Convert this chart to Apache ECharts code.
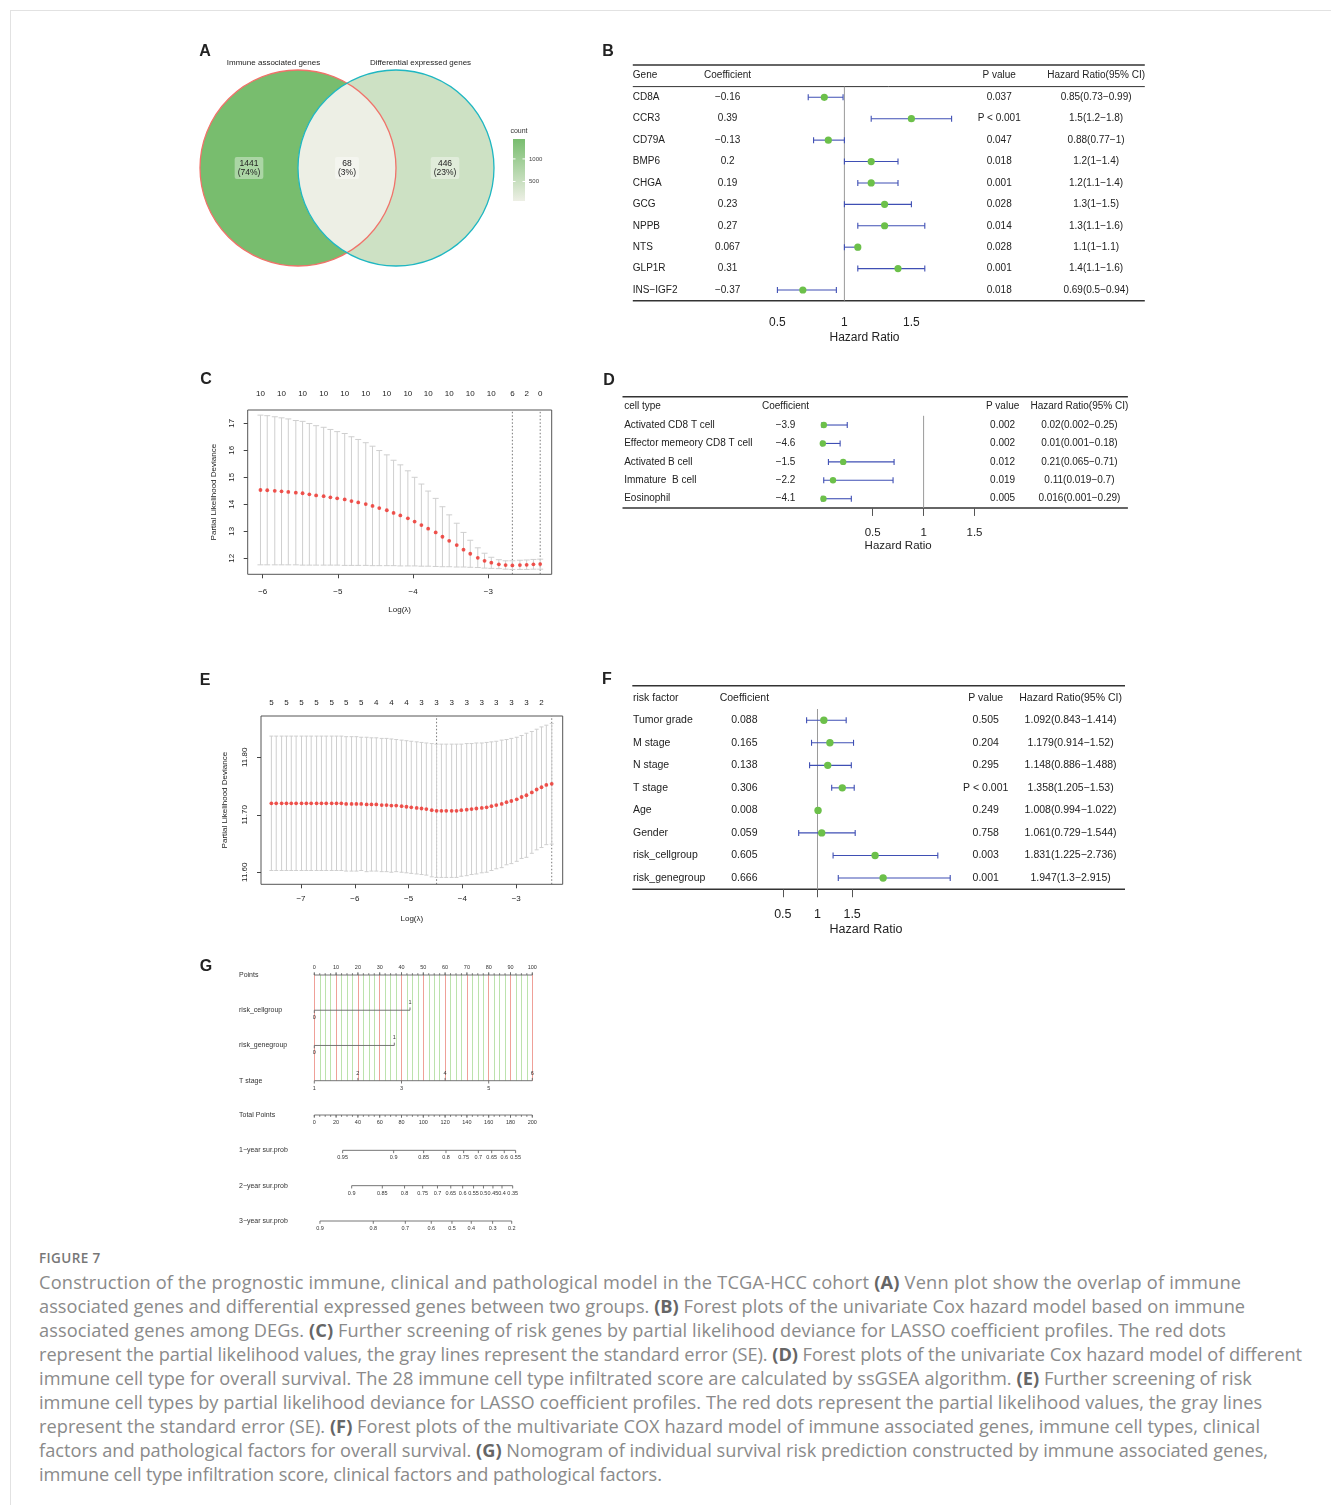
<!DOCTYPE html>
<html>
<head>
<meta charset="utf-8">
<title>Figure 7</title>
<script src="https://cdn.jsdelivr.net/npm/echarts@6.0.0/dist/echarts.min.js"></script>
<style>
  html, body { margin: 0; padding: 0; background: #fff; }
  #frame { position: absolute; left: 10px; top: 10px; width: 1340px; height: 1520px; border: 1px solid #e2e2e2; box-sizing: border-box; }
  #chart { position: absolute; left: 0; top: 0; width: 1331px; height: 1245px; }
  #caption { position: absolute; left: 39px; top: 1247px; font-family: 'Open Sans', sans-serif; color: #8a8a8a; white-space: nowrap; }
  #caption .fig { font-size: 13.5px; font-weight: 600; letter-spacing: 0.4px; line-height: 22px; margin-bottom: 1px; color: #777; }
  #caption .txt { font-size: 18.2px; line-height: 24px; }
  #caption b { color: #666; }
</style>
</head>
<body>
<div id="frame"></div>
<div id="chart"></div>
<div id="caption">
  <div class="fig">FIGURE 7</div>
  <div class="txt">
    <div><span class="ln" data-r="1241">Construction of the prognostic immune, clinical and pathological model in the TCGA-HCC cohort <b>(A)</b> Venn plot show the overlap of immune</span></div>
    <div><span class="ln" data-r="1245">associated genes and differential expressed genes between two groups. <b>(B)</b> Forest plots of the univariate Cox hazard model based on immune</span></div>
    <div><span class="ln" data-r="1226">associated genes among DEGs. <b>(C)</b> Further screening of risk genes by partial likelihood deviance for LASSO coefficient profiles. The red dots</span></div>
    <div><span class="ln" data-r="1302">represent the partial likelihood values, the gray lines represent the standard error (SE). <b>(D)</b> Forest plots of the univariate Cox hazard model of different</span></div>
    <div><span class="ln" data-r="1252">immune cell type for overall survival. The 28 immune cell type infiltrated score are calculated by ssGSEA algorithm. <b>(E)</b> Further screening of risk</span></div>
    <div><span class="ln" data-r="1262">immune cell types by partial likelihood deviance for LASSO coefficient profiles. The red dots represent the partial likelihood values, the gray lines</span></div>
    <div><span class="ln" data-r="1260">represent the standard error (SE). <b>(F)</b> Forest plots of the multivariate COX hazard model of immune associated genes, immune cell types, clinical</span></div>
    <div><span class="ln" data-r="1268">factors and pathological factors for overall survival. <b>(G)</b> Nomogram of individual survival risk prediction constructed by immune associated genes,</span></div>
    <div><span class="ln" data-r="662">immune cell type infiltration score, clinical factors and pathological factors.</span></div>
  </div>
</div>
<script>
var FONT = 'Liberation Sans';
var VENN_LOW = '#EDEFE5', VENN_HIGH = '#78BD6E';
var CI_BLUE = '#3F4FB4', DOT_GREEN = '#6CC04A', CV_RED = '#EE2A24', BAR_GRAY = '#CFCFCF';

// ---- A: Venn ----
var vennSets = ['Immune associated genes', 'Differential expressed genes'];
var vennCounts = [1441, 68, 446];          // left only, both, right only
var vennPct = ['74%', '3%', '23%'];
var countTicks = [500, 1000];

// ---- B: univariate Cox, genes ----
var geneB = ['CD8A', 'CCR3', 'CD79A', 'BMP6', 'CHGA', 'GCG', 'NPPB', 'NTS', 'GLP1R', 'INS−IGF2'];
var coefB = ['−0.16', '0.39', '−0.13', '0.2', '0.19', '0.23', '0.27', '0.067', '0.31', '−0.37'];
var hrB = [0.85, 1.5, 0.88, 1.2, 1.2, 1.3, 1.3, 1.1, 1.4, 0.69];
var loB = [0.73, 1.2, 0.77, 1, 1.1, 1, 1.1, 1, 1.1, 0.5];
var hiB = [0.99, 1.8, 1, 1.4, 1.4, 1.5, 1.6, 1.1, 1.6, 0.94];
var pB = ['0.037', 'P < 0.001', '0.047', '0.018', '0.001', '0.028', '0.014', '0.028', '0.001', '0.018'];

// ---- C: LASSO cv, genes ----
var lamC = [-6.03, -5.94, -5.84, -5.75, -5.66, -5.56, -5.47, -5.38, -5.29, -5.19,
  -5.10, -5.01, -4.91, -4.82, -4.73, -4.63, -4.54, -4.45, -4.35, -4.26,
  -4.17, -4.07, -3.98, -3.89, -3.80, -3.70, -3.61, -3.52, -3.42, -3.33,
  -3.24, -3.14, -3.05, -2.96, -2.86, -2.77, -2.68, -2.58, -2.49, -2.40, -2.31];
var cvmC = [14.53, 14.52, 14.50, 14.48, 14.46, 14.43, 14.41, 14.37, 14.33, 14.30,
  14.26, 14.22, 14.18, 14.12, 14.07, 14.01, 13.94, 13.86, 13.78, 13.68,
  13.59, 13.48, 13.36, 13.23, 13.10, 12.96, 12.80, 12.65, 12.49, 12.32,
  12.17, 12.02, 11.91, 11.84, 11.78, 11.75, 11.74, 11.75, 11.76, 11.78, 11.79];
var upC = [17.30, 17.28, 17.24, 17.20, 17.16, 17.10, 17.07, 16.99, 16.91, 16.85,
  16.77, 16.69, 16.62, 16.50, 16.40, 16.28, 16.15, 15.99, 15.83, 15.63,
  15.46, 15.24, 15.00, 14.75, 14.49, 14.22, 13.91, 13.61, 13.30, 12.96,
  12.67, 12.39, 12.19, 12.04, 11.95, 11.91, 11.91, 11.93, 11.94, 11.96, 11.97];
var loC = [11.76, 11.76, 11.76, 11.76, 11.76, 11.76, 11.75, 11.75, 11.75, 11.75,
  11.75, 11.75, 11.74, 11.74, 11.74, 11.74, 11.73, 11.73, 11.73, 11.73,
  11.72, 11.72, 11.72, 11.71, 11.71, 11.70, 11.69, 11.69, 11.68, 11.68,
  11.67, 11.66, 11.64, 11.63, 11.62, 11.60, 11.59, 11.59, 11.59, 11.60, 11.60];
var topIdxC = [0, 3, 6, 9, 12, 15, 18, 21, 24, 27, 30, 33, 36, 38, 40];
var topLabC = [10, 10, 10, 10, 10, 10, 10, 10, 10, 10, 10, 10, 6, 2, 0];
var cutC = [-2.68, -2.31];

// ---- D: univariate Cox, cell types ----
var cellD = ['Activated CD8 T cell', 'Effector memeory CD8 T cell', 'Activated B cell', 'Immature  B cell', 'Eosinophil'];
var coefD = ['−3.9', '−4.6', '−1.5', '−2.2', '−4.1'];
var hrD = [0.02, 0.01, 0.21, 0.11, 0.016];
var loD = [0.002, 0.001, 0.065, 0.019, 0.001];
var hiD = [0.25, 0.18, 0.71, 0.7, 0.29];
var pD = ['0.002', '0.002', '0.012', '0.019', '0.005'];

// ---- E: LASSO cv, cell types ----
var lamE = [-7.55, -7.46, -7.36, -7.27, -7.18, -7.09, -6.99, -6.90, -6.81, -6.71,
  -6.62, -6.53, -6.43, -6.34, -6.25, -6.16, -6.06, -5.97, -5.88, -5.78,
  -5.69, -5.60, -5.50, -5.41, -5.32, -5.23, -5.13, -5.04, -4.95, -4.85,
  -4.76, -4.67, -4.57, -4.48, -4.39, -4.30, -4.20, -4.11, -4.02, -3.92,
  -3.83, -3.74, -3.64, -3.55, -3.46, -3.37, -3.27, -3.18, -3.09, -2.99,
  -2.90, -2.81, -2.71, -2.62, -2.53, -2.44, -2.34];
var cvmE = [11.720, 11.720, 11.720, 11.720, 11.720, 11.720, 11.720, 11.720, 11.720, 11.720,
  11.720, 11.720, 11.720, 11.720, 11.720, 11.719, 11.719, 11.719, 11.719, 11.718,
  11.718, 11.718, 11.717, 11.717, 11.716, 11.716, 11.715, 11.714, 11.713, 11.712,
  11.711, 11.710, 11.708, 11.707, 11.707, 11.707, 11.707, 11.707, 11.708, 11.709,
  11.710, 11.711, 11.712, 11.713, 11.715, 11.717, 11.719, 11.722, 11.724, 11.727,
  11.731, 11.734, 11.739, 11.744, 11.748, 11.752, 11.754];
var upE = [11.837, 11.837, 11.837, 11.837, 11.837, 11.837, 11.837, 11.837, 11.837, 11.837,
  11.837, 11.837, 11.837, 11.837, 11.837, 11.836, 11.836, 11.836, 11.835, 11.835,
  11.834, 11.834, 11.833, 11.833, 11.832, 11.831, 11.830, 11.829, 11.828, 11.827,
  11.826, 11.825, 11.824, 11.823, 11.823, 11.823, 11.823, 11.823, 11.823, 11.824,
  11.824, 11.825, 11.825, 11.826, 11.827, 11.828, 11.830, 11.831, 11.833, 11.835,
  11.838, 11.842, 11.845, 11.849, 11.853, 11.856, 11.859];
var loE = [11.603, 11.603, 11.603, 11.603, 11.603, 11.603, 11.603, 11.603, 11.603, 11.603,
  11.603, 11.603, 11.603, 11.603, 11.603, 11.602, 11.602, 11.602, 11.603, 11.601,
  11.602, 11.602, 11.601, 11.601, 11.600, 11.601, 11.600, 11.599, 11.598, 11.597,
  11.596, 11.595, 11.592, 11.591, 11.591, 11.591, 11.591, 11.591, 11.593, 11.594,
  11.596, 11.597, 11.599, 11.600, 11.603, 11.606, 11.608, 11.613, 11.615, 11.619,
  11.624, 11.626, 11.633, 11.639, 11.643, 11.648, 11.649];
var topIdxE = [0, 3, 6, 9, 12, 15, 18, 21, 24, 27, 30, 33, 36, 39, 42, 45, 48, 51, 54];
var topLabE = [5, 5, 5, 5, 5, 5, 5, 4, 4, 4, 3, 3, 3, 3, 3, 3, 3, 3, 2];
var cutE = [-4.48, -2.34];

// ---- F: multivariate Cox ----
var factorF = ['Tumor grade', 'M stage', 'N stage', 'T stage', 'Age', 'Gender', 'risk_cellgroup', 'risk_genegroup'];
var coefF = ['0.088', '0.165', '0.138', '0.306', '0.008', '0.059', '0.605', '0.666'];
var hrF = [1.092, 1.179, 1.148, 1.358, 1.008, 1.061, 1.831, 1.947];
var loF = [0.843, 0.914, 0.886, 1.205, 0.994, 0.729, 1.225, 1.3];
var hiF = [1.414, 1.52, 1.488, 1.53, 1.022, 1.544, 2.736, 2.915];
var pF = ['0.505', '0.204', '0.295', 'P < 0.001', '0.249', '0.758', '0.003', '0.001'];
var hrTicks = [0.5, 1, 1.5];
var hrRef = 1;

// ---- G: nomogram ----
var nomoTop = ['Points', 'risk_cellgroup', 'risk_genegroup', 'T stage'];
var nomoBottom = ['Total Points', '1−year sur.prob', '2−year sur.prob', '3−year sur.prob'];
var pointsAt = [0, 10, 20, 30, 40, 50, 60, 70, 80, 90, 100];
var cellLev = ['0', '1'], cellPts = [0, 43.9];
var geneLev = ['0', '1'], genePts = [0, 36.7];
var tLev = ['1', '2', '3', '4', '5', '6'], tPts = [0, 20, 40, 60, 80, 100];
var totalAt = [0, 20, 40, 60, 80, 100, 120, 140, 160, 180, 200];
var sur1Lab = ['0.95', '0.9', '0.85', '0.8', '0.75', '0.7', '0.65', '0.6', '0.55'];
var sur1At = [26.0, 72.8, 100.3, 120.8, 137.0, 150.5, 162.7, 174.3, 184.7];
var sur2Lab = ['0.9', '0.85', '0.8', '0.75', '0.7', '0.65', '0.6', '0.55', '0.5', '0.45', '0.4', '0.35'];
var sur2At = [34.3, 62.4, 82.8, 99.4, 113.0, 125.2, 136.1, 146.1, 155.2, 163.9, 172.2, 182.0];
var sur3Lab = ['0.9', '0.8', '0.7', '0.6', '0.5', '0.4', '0.3', '0.2'];
var sur3At = [5.2, 54.1, 83.5, 107.3, 126.3, 144.0, 163.6, 181.1];

var grid = [], xAxis = [], yAxis = [], series = [], graphic = [];

function txtEl(s, x, y, size, align, weight) {
  return {type: 'text', style: {text: s, x: x, y: y, fontSize: size, fontFamily: FONT, fontWeight: weight || 'normal',
    fill: '#222', align: align, textAlign: align, verticalAlign: 'middle', textVerticalAlign: 'middle'}};
}
function hline(x1, x2, y, w) {
  return {type: 'line', shape: {x1: x1, y1: y, x2: x2, y2: y}, style: {stroke: '#333', lineWidth: w}};
}
function minusFmt(v) { return v < 0 ? '−' + Math.abs(v) : String(v); }

// panel letters
[['A', 205, 52], ['B', 608, 52], ['C', 206, 380], ['D', 609, 381], ['E', 205, 681], ['F', 607, 680], ['G', 206, 967]]
  .forEach(function (l) { graphic.push(txtEl(l[0], l[1], l[2], 16, 'center', 'bold')); });

// ================= A =================
grid.push({left: 200, top: 70, width: 294, height: 196});
xAxis.push({gridIndex: 0, type: 'value', min: -1, max: 2, show: false});
yAxis.push({gridIndex: 0, type: 'value', min: -1, max: 1, show: false});

function arcPts(cx, a0, a1) {
  var pts = [];
  for (var k = 0; k <= 60; k++) {
    var a = (a0 + (a1 - a0) * k / 60) * Math.PI / 180;
    pts.push([cx + Math.cos(a), Math.sin(a)]);
  }
  return pts;
}
var regionShape = [
  arcPts(0, 60, 300).concat(arcPts(1, 240, 120)),
  arcPts(0, -60, 60).concat(arcPts(1, 120, 240)),
  arcPts(1, 120, -120).concat(arcPts(0, -60, 60))
];
var regionX = [-0.5, 0.5, 1.5];
var cMin = Math.min.apply(null, vennCounts), cMax = Math.max.apply(null, vennCounts);
function countColor(v) { return echarts.color.lerp((v - cMin) / (cMax - cMin), [VENN_LOW, VENN_HIGH]); }

series.push({
  type: 'custom', xAxisIndex: 0, yAxisIndex: 0, silent: true,
  data: vennCounts.map(function (c, i) { return [regionX[i], 0, c]; }),
  encode: {x: 0, y: 1},
  renderItem: function (params, api) {
    var i = params.dataIndex;
    var pts = regionShape[i].map(function (p) { return api.coord(p); });
    var c = api.coord([api.value(0), api.value(1)]);
    return {type: 'group', children: [
      {type: 'polygon', shape: {points: pts}, style: {fill: countColor(api.value(2))}},
      {type: 'text', z2: 10, style: {text: vennCounts[i] + '\n(' + vennPct[i] + ')', x: c[0], y: c[1],
        align: 'center', verticalAlign: 'middle', fontSize: 8.5, fontFamily: FONT, fill: '#222', lineHeight: 9,
        backgroundColor: 'rgba(255,255,255,0.38)', padding: [2, 3], borderRadius: 2}}
    ]};
  }
});
var vennStroke = ['#F0736A', '#1FB7C2'];
series.push({
  type: 'custom', xAxisIndex: 0, yAxisIndex: 0, silent: true, z: 3,
  data: [[0, 0], [1, 0]],
  encode: {x: 0, y: 1},
  renderItem: function (params, api) {
    var i = params.dataIndex;
    var c = api.coord([api.value(0), 0]);
    var r = api.size([1, 0])[0];
    var t = api.coord([api.value(0) + (i ? 0.25 : -0.25), 1.07]);
    return {type: 'group', children: [
      {type: 'circle', shape: {cx: c[0], cy: c[1], r: r}, style: {fill: 'none', stroke: vennStroke[i], lineWidth: 1.3}},
      {type: 'text', style: {text: vennSets[i], x: t[0], y: t[1], align: 'center', verticalAlign: 'middle',
        fontSize: 8, fontFamily: FONT, fill: '#222'}}
    ]};
  }
});

// legend bar
grid.push({left: 513, top: 139, width: 12, height: 62});
xAxis.push({gridIndex: 1, type: 'value', min: -0.5, max: 0.5, show: false});
yAxis.push({gridIndex: 1, type: 'value', min: cMin, max: cMax,
  position: 'right', name: 'count', nameLocation: 'end', nameGap: 4,
  nameTextStyle: {fontSize: 7, color: '#333', fontFamily: FONT},
  axisLine: {show: false}, axisTick: {show: false}, splitLine: {show: false},
  axisLabel: {customValues: countTicks, formatter: function (v) { return String(v); },
    fontSize: 6, color: '#444', margin: 4, fontFamily: FONT}});
series.push({
  type: 'custom', xAxisIndex: 1, yAxisIndex: 1, silent: true,
  data: [[0, cMin, cMax]],
  encode: {x: 0, y: [1, 2]},
  renderItem: function (params, api) {
    var lo = api.coord([0, api.value(1)]), hi = api.coord([0, api.value(2)]);
    var w = api.size([1, 0])[0];
    var ch = [{type: 'rect', shape: {x: lo[0] - w / 2, y: hi[1], width: w, height: lo[1] - hi[1]},
      style: {fill: new echarts.graphic.LinearGradient(0, 0, 0, 1, [{offset: 0, color: VENN_HIGH}, {offset: 1, color: VENN_LOW}])}}];
    countTicks.forEach(function (v) {
      var p = api.coord([0, v]);
      ch.push({type: 'line', shape: {x1: p[0] - w / 2, y1: p[1], x2: p[0] - w / 2 + 2.5, y2: p[1]}, style: {stroke: '#fff', lineWidth: 1}});
      ch.push({type: 'line', shape: {x1: p[0] + w / 2 - 2.5, y1: p[1], x2: p[0] + w / 2, y2: p[1]}, style: {stroke: '#fff', lineWidth: 1}});
    });
    return {type: 'group', children: ch};
  }
});

// ================= forest plots (B, D, F) =================
function forestPanel(o) {
  var gi = grid.length, n = o.names.length;
  grid.push({left: o.plotL, top: o.top, width: o.plotR - o.plotL, height: n * o.step});
  xAxis.push({gridIndex: gi, type: 'value', min: o.min, max: o.max, splitLine: {show: false},
    axisLine: {show: false, onZero: false},
    axisTick: {show: o.ticks, customValues: hrTicks, length: 8, lineStyle: {color: '#555'}},
    axisLabel: {customValues: hrTicks, fontSize: o.axisFont, color: '#222', margin: o.labelMargin, fontFamily: FONT},
    name: 'Hazard Ratio', nameLocation: 'middle', nameGap: o.nameGap,
    nameTextStyle: {fontSize: o.axisFont, color: '#222', fontFamily: FONT}});
  yAxis.push({gridIndex: gi, type: 'value', min: -0.5, max: n - 0.5, inverse: true, show: false});
  series.push({
    type: 'custom', xAxisIndex: xAxis.length - 1, yAxisIndex: yAxis.length - 1, silent: true,
    data: o.hr.map(function (h, i) { return [h, o.lo[i], o.hi[i], i]; }),
    encode: {x: [0, 1, 2], y: 3},
    renderItem: function (params, api) {
      var i = params.dataIndex, row = api.value(3);
      var pm = api.coord([api.value(0), row]);
      var pl = api.coord([api.value(1), row]);
      var ph = api.coord([api.value(2), row]);
      var y = pm[1];
      var st = {stroke: CI_BLUE, lineWidth: 1.1};
      function t(s, x, align) {
        return {type: 'text', style: {text: s, x: x, y: y, align: align, verticalAlign: 'middle',
          fontSize: o.font, fontFamily: FONT, fill: '#222'}};
      }
      var ch = [];
      if (i === 0) {
        var r0 = api.coord([hrRef, -0.5]), r1 = api.coord([hrRef, n - 0.5]);
        ch.push({type: 'line', z2: -1, shape: {x1: r0[0], y1: r0[1], x2: r1[0], y2: r1[1]}, style: {stroke: '#9a9a9a', lineWidth: 1}});
      }
      ch.push(
        {type: 'line', shape: {x1: pl[0], y1: y, x2: ph[0], y2: y}, style: st},
        {type: 'line', shape: {x1: pl[0], y1: y - 3, x2: pl[0], y2: y + 3}, style: st},
        {type: 'line', shape: {x1: ph[0], y1: y - 3, x2: ph[0], y2: y + 3}, style: st},
        {type: 'circle', shape: {cx: pm[0], cy: y, r: o.dot}, style: {fill: DOT_GREEN}},
        t(o.names[i], o.cols[0], 'left'),
        t(o.coef[i], o.cols[1], 'center'),
        t(o.p[i], o.cols[2], 'center'),
        t(o.hr[i] + '(' + o.lo[i] + '−' + o.hi[i] + ')', o.cols[3], 'center')
      );
      return {type: 'group', children: ch};
    }
  });
  var bottom = o.top + n * o.step;
  graphic.push(hline(o.tableL, o.tableR, o.ruleTop, 1.6));
  if (o.headRule) graphic.push(hline(o.tableL, o.tableR, o.top, 1));
  graphic.push(hline(o.tableL, o.tableR, bottom, 1.6));
  graphic.push(txtEl(o.head, o.cols[0], o.headY, o.font, 'left'));
  graphic.push(txtEl('Coefficient', o.cols[1], o.headY, o.font, 'center'));
  graphic.push(txtEl('P value', o.cols[2], o.headY, o.font, 'center'));
  graphic.push(txtEl('Hazard Ratio(95% CI)', o.cols[3], o.headY, o.font, 'center'));
}

forestPanel({names: geneB, coef: coefB, hr: hrB, lo: loB, hi: hiB, p: pB, head: 'Gene',
  plotL: 764, plotR: 965, min: 0.4, max: 1.9, top: 86.6, step: 21.41,
  tableL: 632.8, tableR: 1144.8, ruleTop: 65, headRule: true, headY: 75.7,
  cols: [632.8, 727.6, 999.2, 1096.1], font: 10, dot: 3.6,
  ticks: false, axisFont: 12, labelMargin: 16, nameGap: 31});

forestPanel({names: cellD, coef: coefD, hr: hrD, lo: loD, hi: hiD, p: pD, head: 'cell type',
  plotL: 821.8, plotR: 974.5, min: 0, max: 1.5, top: 415.8, step: 18.43,
  tableL: 622.5, tableR: 1127.9, ruleTop: 396.7, headRule: false, headY: 406.7,
  cols: [624.2, 785.5, 1002.6, 1079.4], font: 10, dot: 3.2,
  ticks: true, axisFont: 11.5, labelMargin: 18.5, nameGap: 31.3});

forestPanel({names: factorF, coef: coefF, hr: hrF, lo: loF, hi: hiF, p: pF, head: 'risk factor',
  plotL: 775.9, plotR: 956.1, min: 0.4, max: 3.0, top: 709, step: 22.53,
  tableL: 632.3, tableR: 1125, ruleTop: 685.7, headRule: false, headY: 697.7,
  cols: [633, 744.4, 985.7, 1070.6], font: 10.5, dot: 3.7,
  ticks: true, axisFont: 12.5, labelMargin: 18.9, nameGap: 33.9});

// ================= LASSO cv plots (C, E) =================
function cvPanel(o) {
  var gi = grid.length;
  grid.push({left: o.L, top: o.T, width: o.W, height: o.H, show: true, borderColor: '#555', borderWidth: 1});
  var axFont = {fontSize: 8, color: '#222', fontFamily: FONT};
  xAxis.push({gridIndex: gi, type: 'value', min: o.xmin, max: o.xmax, axisLine: {show: false, onZero: false}, splitLine: {show: false},
    axisTick: {customValues: o.xticks, length: 4, lineStyle: {color: '#444'}},
    axisLabel: Object.assign({customValues: o.xticks, formatter: minusFmt, margin: o.xMargin}, axFont),
    name: 'Log(λ)', nameLocation: 'middle', nameGap: o.xNameGap, nameTextStyle: axFont});
  var topAt = o.topIdx.map(function (k) { return o.lam[k]; });
  xAxis.push({gridIndex: gi, type: 'value', position: 'top', min: o.xmin, max: o.xmax,
    axisLine: {show: false, onZero: false}, axisTick: {show: false}, splitLine: {show: false},
    axisLabel: Object.assign({customValues: topAt, margin: o.topMargin,
      formatter: function (v) { var k = topAt.indexOf(v); return k < 0 ? '' : String(o.topLab[k]); }}, axFont)});
  yAxis.push({gridIndex: gi, type: 'value', min: o.ymin, max: o.ymax, axisLine: {show: false, onZero: false}, splitLine: {show: false},
    axisTick: {customValues: o.yticks, length: 4, lineStyle: {color: '#444'}},
    axisLabel: Object.assign({customValues: o.yticks, rotate: 90, formatter: o.yfmt, margin: o.yMargin}, axFont),
    name: 'Partial Likelihood Deviance', nameLocation: 'middle', nameGap: o.yNameGap, nameTextStyle: axFont});
  var xi = xAxis.length - 2, yi = yAxis.length - 1;
  series.push({
    type: 'custom', xAxisIndex: xi, yAxisIndex: yi, silent: true,
    data: o.lam.map(function (x, i) { return [x, o.lo[i], o.up[i]]; }),
    encode: {x: 0, y: [1, 2]},
    renderItem: function (params, api) {
      var a = api.coord([api.value(0), api.value(1)]), b = api.coord([api.value(0), api.value(2)]);
      var st = {stroke: BAR_GRAY, lineWidth: 1}, h = o.cap;
      return {type: 'group', children: [
        {type: 'line', shape: {x1: a[0], y1: a[1], x2: b[0], y2: b[1]}, style: st},
        {type: 'line', shape: {x1: a[0] - h, y1: a[1], x2: a[0] + h, y2: a[1]}, style: st},
        {type: 'line', shape: {x1: b[0] - h, y1: b[1], x2: b[0] + h, y2: b[1]}, style: st}
      ]};
    }
  });
  series.push({
    type: 'custom', xAxisIndex: xi, yAxisIndex: yi, silent: true, z: 1,
    data: o.cuts.map(function (c) { return [c, o.ymin, o.ymax]; }),
    encode: {x: 0, y: [1, 2]},
    renderItem: function (params, api) {
      var a = api.coord([api.value(0), api.value(1)]), b = api.coord([api.value(0), api.value(2)]);
      return {type: 'line', shape: {x1: a[0], y1: a[1], x2: b[0], y2: b[1]},
        style: {stroke: '#777', lineWidth: 1, lineDash: [1.5, 2]}};
    }
  });
  series.push({type: 'scatter', xAxisIndex: xi, yAxisIndex: yi, silent: true, symbolSize: 3.8, z: 4,
    itemStyle: {color: CV_RED}, data: o.lam.map(function (x, i) { return [x, o.cvm[i]]; })});
}

cvPanel({lam: lamC, cvm: cvmC, up: upC, lo: loC, topIdx: topIdxC, topLab: topLabC, cuts: cutC,
  L: 247.7, T: 410, W: 304, H: 164.3, xmin: -6.2, xmax: -2.157, ymin: 11.41, ymax: 17.49,
  xticks: [-6, -5, -4, -3], yticks: [12, 13, 14, 15, 16, 17], yfmt: function (v) { return String(v); },
  xMargin: 13.4, xNameGap: 31.7, topMargin: 12, yMargin: 12, yNameGap: 30.4, cap: 3});

cvPanel({lam: lamE, cvm: cvmE, up: upE, lo: loE, topIdx: topIdxE, topLab: topLabE, cuts: cutE,
  L: 261, T: 716, W: 301.7, H: 168.3, xmin: -7.743, xmax: -2.136, ymin: 11.579, ymax: 11.872,
  xticks: [-7, -6, -5, -4, -3], yticks: [11.6, 11.7, 11.8], yfmt: function (v) { return v.toFixed(2); },
  xMargin: 10.7, xNameGap: 30, topMargin: 9.3, yMargin: 12, yNameGap: 32.7, cap: 2});

// ================= G nomogram =================
var rowsTop = [
  {at: pointsAt, lab: pointsAt.map(String), side: -1, minor: 2.5},
  {at: cellPts, lab: cellLev, side: [1, -1]},
  {at: genePts, lab: geneLev, side: [1, -1]},
  {at: tPts, lab: tLev, side: [1, -1, 1, -1, 1, -1]}
];
var rowsBottom = [
  {at: totalAt, lab: totalAt.map(String), side: 1, minor: 5},
  {at: sur1At, lab: sur1Lab, side: 1},
  {at: sur2At, lab: sur2Lab, side: 1},
  {at: sur3At, lab: sur3Lab, side: 1}
];
function nomoRender(rows) {
  return function (params, api) {
    var r = params.dataIndex, d = rows[r];
    var first = d.at[0], last = d.at[d.at.length - 1];
    var p0 = api.coord([first, r]), p1 = api.coord([last, r]);
    var y = p0[1];
    var st = {stroke: '#666', lineWidth: 0.9};
    var ch = [{type: 'line', shape: {x1: p0[0], y1: y, x2: p1[0], y2: y}, style: st}];
    if (d.minor) {
      for (var v = first; v <= last + 1e-9; v += d.minor) {
        var xm = api.coord([v, r])[0];
        ch.push({type: 'line', shape: {x1: xm, y1: y, x2: xm, y2: y + d.side * 1.8}, style: st});
      }
    }
    d.at.forEach(function (v, k) {
      var s = typeof d.side === 'number' ? d.side : d.side[k];
      var x = api.coord([v, r])[0];
      ch.push({type: 'line', shape: {x1: x, y1: y, x2: x, y2: y + s * 2.8}, style: st});
      ch.push({type: 'text', style: {text: d.lab[k], x: x, y: y + s * 7.5, align: 'center', verticalAlign: 'middle',
        fontSize: 5.5, fontFamily: FONT, fill: '#333'}});
    });
    return {type: 'group', children: ch};
  };
}
function nomoGrid(top, height, names, max, lines) {
  var gi = grid.length;
  grid.push({left: 314.3, top: top, width: 218, height: height});
  xAxis.push({gridIndex: gi, type: 'value', min: 0, max: max, interval: 2.5, show: lines,
    axisLine: {show: false, onZero: false}, axisTick: {show: false}, axisLabel: {show: false},
    splitLine: {show: lines, lineStyle: {color: ['#EFA098', '#BCE2AD', '#BCE2AD', '#BCE2AD'], width: 1}}});
  yAxis.push({gridIndex: gi, type: 'value', min: 0, max: names.length - 1, inverse: true,
    axisLine: {show: false, onZero: false}, axisTick: {show: false}, splitLine: {show: false},
    axisLabel: {customValues: names.map(function (s, i) { return i; }), formatter: function (v) { return names[v]; },
      align: 'left', margin: 75.3, fontSize: 7, color: '#333', fontFamily: FONT}});
  return [xAxis.length - 1, yAxis.length - 1];
}
var gTop = nomoGrid(975, 105.7, nomoTop, 100, true);
series.push({type: 'custom', xAxisIndex: gTop[0], yAxisIndex: gTop[1], silent: true, z: 3,
  data: rowsTop.map(function (d, i) { return [d.at[0], i]; }), encode: {x: 0, y: 1},
  renderItem: nomoRender(rowsTop)});
var gBot = nomoGrid(1115, 106, nomoBottom, 200, false);
series.push({type: 'custom', xAxisIndex: gBot[0], yAxisIndex: gBot[1], silent: true, z: 3,
  data: rowsBottom.map(function (d, i) { return [d.at[0], i]; }), encode: {x: 0, y: 1},
  renderItem: nomoRender(rowsBottom)});

var myChart = echarts.init(document.getElementById('chart'), null, {renderer: 'canvas'});
var option = {
  animation: false,
  textStyle: {fontFamily: FONT},
  grid: grid, xAxis: xAxis, yAxis: yAxis, series: series, graphic: graphic
};
myChart.setOption(option);
window.addEventListener('resize', myChart.resize);

// stretch each caption line to the width it has in the figure
var capLeft = document.getElementById('caption').getBoundingClientRect().left;
document.querySelectorAll('#caption .ln').forEach(function (el) {
  var w = el.getBoundingClientRect().width;
  var target = +el.getAttribute('data-r') - capLeft;
  var n = el.textContent.length - 1;
  if (n > 0) el.style.letterSpacing = ((target - w) / n).toFixed(3) + 'px';
});
</script>
</body>
</html>
